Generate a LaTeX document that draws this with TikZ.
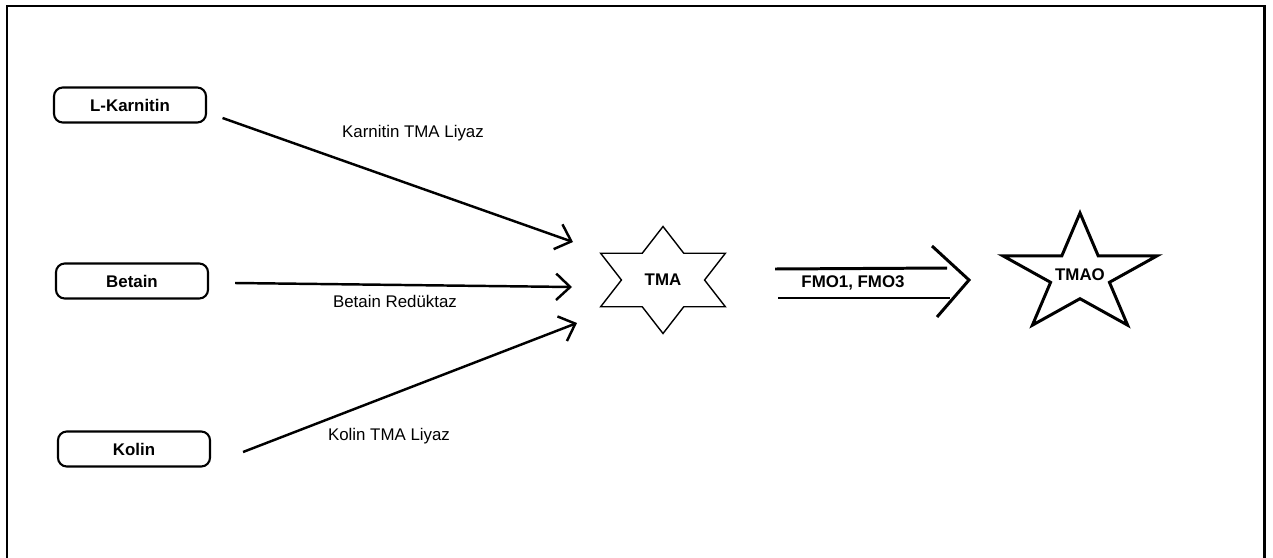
\documentclass[tikz,border=0pt]{standalone}
\usepackage{fontspec}
\setmainfont{Liberation Sans}
\usetikzlibrary{calc,arrows.meta}

\newcommand{\frameLineWidth}{1.7pt}
\newcommand{\arrowLineWidth}{1.4pt}
\newcommand{\hexLineWidth}{0.8pt}
\newcommand{\pentLineWidth}{1.7pt}
\newcommand{\labelFont}{\fontsize{9.6}{11}\selectfont}

\tikzset{
    source/.style={draw, line width=1.2pt, rounded corners=5pt, minimum width=3.04cm, minimum height=0.7cm, font=\labelFont\bfseries},
    enzyme/.style={font=\labelFont},
    product/.style={font=\labelFont\bfseries},
    reaction/.style={line width=\arrowLineWidth, -{Straight Barb[length=8pt,width=15pt,line width=\arrowLineWidth]}}
}

\begin{document}
\begin{tikzpicture}
        \useasboundingbox (0,0) rectangle (25.46,-11.14);

        % Frame
        \draw [line width=\frameLineWidth, black] (0.14,-0.12) rectangle (25.28,-11.22);

        % Precursors
        \node[source] (lkarnitin) at (2.60,-2.10) {L-Karnitin};
        \node[source] (betain) at (2.64,-5.62) {Betain};
        \node[source] (kolin) at (2.68,-8.98) {Kolin};

        % Products
        \node[product] (tma) at (13.26,-5.60) {TMA};
        \node[product] (tmao) at (21.60,-5.50) {TMAO};

        % Draw hexagram round TMA
        \draw [line width=\hexLineWidth, line join=miter, shift={(tma.center)}, xscale=1.44, yscale=1.07]
            (90:1) \foreach \a in {120,180,...,420} { -- (\a:0.577) -- ({\a+30}:1) } -- cycle;

        % Draw five pointed star round TMAO
        \draw [line width=\pentLineWidth, line join=miter, shift={(tmao.center)}, xscale=1.62, yscale=1.24]
            (90:1) \foreach \a in {126,198,...,414} { -- (\a:0.382) -- ({\a+36}:1) } -- cycle;

        % Draw enzyme reactions
        \draw [reaction] ($(lkarnitin.east)+(0.31,-0.26)$) -- ($(tma.center)+(-1.80,0.76)$);
        \draw [reaction] ($(betain.east)+(0.52,-0.04)$) -- ($(tma.center)+(-1.82,-0.14)$);
        \draw [reaction] ($(kolin.east)+(0.64,-0.06)$) -- ($(tma.center)+(-1.72,-0.86)$);

        \node[enzyme] (karnitinLiyaz) at (8.26,-2.66) {Karnitin TMA Liyaz};
        \node[enzyme] (betainReduktaz) at (7.90,-6.02) {Betain Redüktaz};
        \node[enzyme] (kolinLiyaz) at (7.78,-8.72) {Kolin TMA Liyaz};

        % Draw oxidation arrow
        \coordinate (fmoTopStart) at ($(tma.center)+(2.24,0.22)$);
        \coordinate (fmoTopEnd) at ($(tmao.center)+(-2.66,0.14)$);
        \coordinate (fmoBotStart) at ($(tma.center)+(2.30,-0.36)$);
        \coordinate (fmoBotEnd) at ($(tmao.center)+(-2.60,-0.46)$);
        \coordinate (fmoTip) at ($(tmao.center)+(-2.22,-0.10)$);
        \coordinate (fmoArmTop) at ($(fmoTip)+(-0.74,0.68)$);
        \coordinate (fmoArmBot) at ($(fmoTip)+(-0.64,-0.74)$);
        \draw [line width=\pentLineWidth, black] (fmoTopStart) -- (fmoTopEnd);
        \draw [line width=\pentLineWidth, black] (fmoBotStart) -- (fmoBotEnd);
        \draw [line width=\pentLineWidth, black] (fmoArmTop) -- (fmoTip) -- (fmoArmBot);
        \node[product] (fmo) at (17.06,-5.66) {FMO1, FMO3};
    \end{tikzpicture}
\end{document}
